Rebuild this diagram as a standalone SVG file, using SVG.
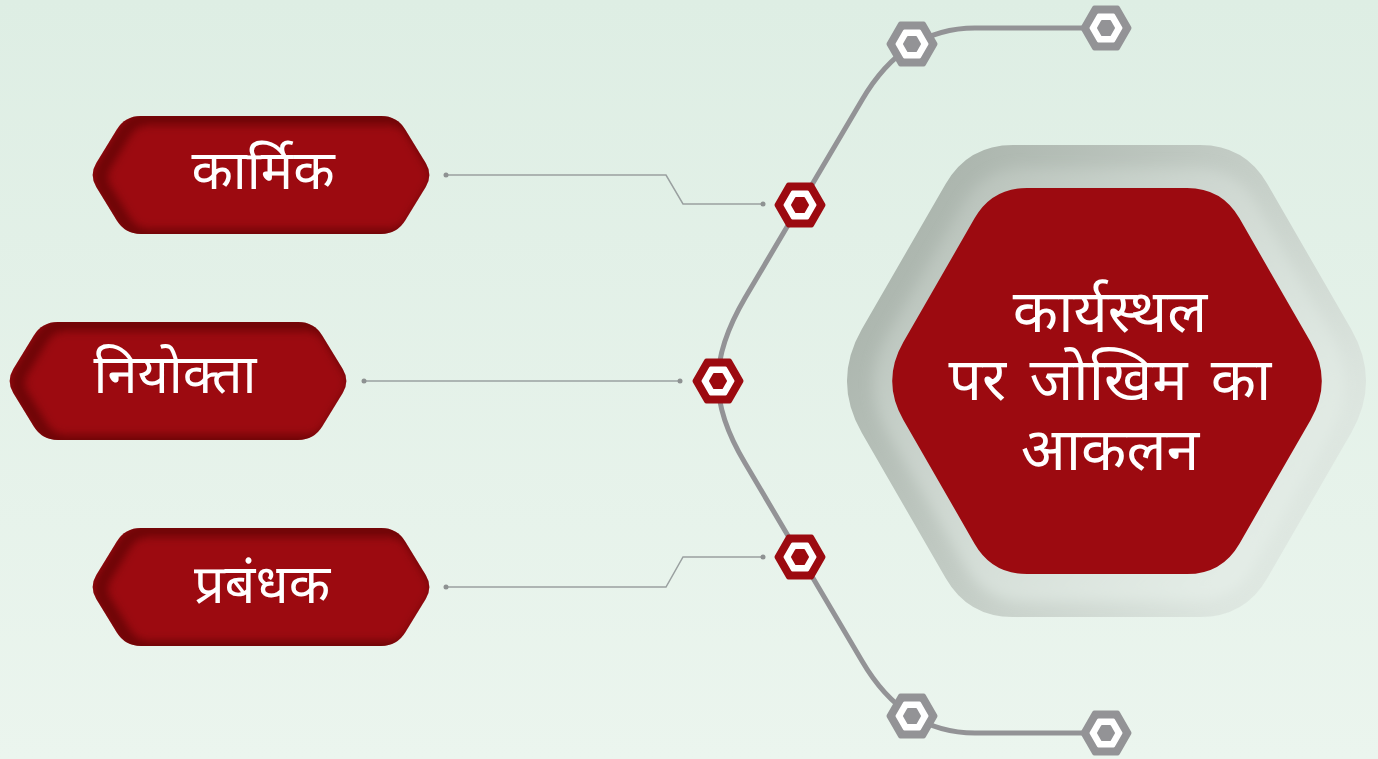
<svg xmlns="http://www.w3.org/2000/svg" xmlns:xlink="http://www.w3.org/1999/xlink" width="1378" height="759" viewBox="0 0 1378 759">
<style>
.lbl{font-family:"Noto Sans Devanagari","Noto Sans","Lohit Devanagari","Nirmala UI",Mangal,sans-serif;fill:#ffffff;text-anchor:middle;font-weight:400}
.sm{font-size:54px}
.lg{font-size:59px}
.box{fill:#9C0A10}
.shade{fill:none;stroke:#4E0006;stroke-width:14;stroke-opacity:0.6}
.thin{fill:none;stroke:#9AA0A0;stroke-width:1.5}
.dot{fill:#8E9292}
.spine{fill:none;stroke:#939396;stroke-width:5;stroke-linecap:round}
.gray .o{fill:#939396;stroke:#939396;stroke-width:5;stroke-linejoin:round}
.gray .i{fill:#939396;stroke:#939396;stroke-width:2;stroke-linejoin:round}
.red .o{fill:#9C0A10;stroke:#9C0A10;stroke-width:5;stroke-linejoin:round}
.red .i{fill:#9C0A10;stroke:#9C0A10;stroke-width:2;stroke-linejoin:round}
.w{fill:#ffffff;stroke:#ffffff;stroke-width:3;stroke-linejoin:round}
</style>
<defs>
<linearGradient id="bg" x1="0" y1="0" x2="0" y2="1">
<stop offset="0" stop-color="#DEEEE4"/>
<stop offset="1" stop-color="#EBF5EE"/>
</linearGradient>
<linearGradient id="halo" x1="0" y1="0.15" x2="1" y2="0.75">
<stop offset="0" stop-color="#A6B0A8"/>
<stop offset="0.5" stop-color="#C3CCC5"/>
<stop offset="1" stop-color="#E3ECE6"/>
</linearGradient>
<linearGradient id="halo2" x1="0" y1="0" x2="1" y2="1">
<stop offset="0" stop-color="#D2DBD4" stop-opacity="0.2"/>
<stop offset="0.5" stop-color="#DCE5DF" stop-opacity="0.6"/>
<stop offset="1" stop-color="#E9F2EC" stop-opacity="0.95"/>
</linearGradient>
<filter id="soft" x="-10%" y="-10%" width="120%" height="120%">
<feGaussianBlur stdDeviation="7"/>
</filter>
<filter id="blur4" x="-10%" y="-20%" width="120%" height="140%">
<feGaussianBlur stdDeviation="4"/>
</filter>
<path id="boxshape" d="M52,0 H292 Q308,0 316.34,13.66 L336.71,47.04 Q344,59 336.71,70.96 L316.34,104.34 Q308,118 292,118 H52 Q36,118 27.66,104.34 L7.29,70.96 Q0,59 7.29,47.04 L27.66,13.66 Q36,0 52,0 Z"/>
<clipPath id="boxclip"><use xlink:href="#boxshape"/></clipPath>
<polygon id="hO" points="23,0 11.5,19.92 -11.5,19.92 -23,0 -11.5,-19.92 11.5,-19.92"/>
<polygon id="hW" points="15,0 7.5,12.99 -7.5,12.99 -15,0 -7.5,-12.99 7.5,-12.99"/>
<polygon id="hI" points="8,0 4,6.93 -4,6.93 -8,0 -4,-6.93 4,-6.93"/>
</defs>
<rect x="0" y="0" width="1378" height="759" fill="url(#bg)"/>

<g id="connectors">
<path class="spine" d="M1106,28 H975 Q904,28 862,100 L745,298 Q718,344 718,381 Q718,418 745,463 L862,661 Q904,733 975,733 H1106"/>
<path class="thin" d="M446,175 H666 L683,204 H763"/>
<circle class="dot" cx="446" cy="175" r="2.5"/>
<circle class="dot" cx="763" cy="204" r="2.5"/>
<path class="thin" d="M364,381 H680"/>
<circle class="dot" cx="364" cy="381" r="2.5"/>
<circle class="dot" cx="680" cy="381" r="2.5"/>
<path class="thin" d="M446,587 H666 L683,557 H763"/>
<circle class="dot" cx="446" cy="587" r="2.5"/>
<circle class="dot" cx="763" cy="557" r="2.5"/>
</g>

<g id="node-karmik" transform="translate(89,116)">
<use xlink:href="#boxshape" class="box"/>
<g clip-path="url(#boxclip)"><use xlink:href="#boxshape" class="shade" filter="url(#blur4)" transform="translate(8,2)"/></g>
<text class="lbl sm" x="174" y="73">कार्मिक</text>
</g>
<g id="node-niyokta" transform="translate(6,322)">
<use xlink:href="#boxshape" class="box"/>
<g clip-path="url(#boxclip)"><use xlink:href="#boxshape" class="shade" filter="url(#blur4)" transform="translate(8,2)"/></g>
<text class="lbl sm" x="169" y="71">नियोक्ता</text>
</g>
<g id="node-prabandhak" transform="translate(89,528)">
<use xlink:href="#boxshape" class="box"/>
<g clip-path="url(#boxclip)"><use xlink:href="#boxshape" class="shade" filter="url(#blur4)" transform="translate(8,2)"/></g>
<text class="lbl sm" x="173" y="75">प्रबंधक</text>
</g>

<g id="node-g1" class="gray" transform="translate(912,44)"><use xlink:href="#hO" class="o"/><use xlink:href="#hW" class="w"/><use xlink:href="#hI" class="i"/></g>
<g id="node-g2" class="gray" transform="translate(1106,28)"><use xlink:href="#hO" class="o"/><use xlink:href="#hW" class="w"/><use xlink:href="#hI" class="i"/></g>
<g id="node-r1" class="red" transform="translate(800,205)"><use xlink:href="#hO" class="o"/><use xlink:href="#hW" class="w"/><use xlink:href="#hI" class="i"/></g>
<g id="node-r2" class="red" transform="translate(718,381)"><use xlink:href="#hO" class="o"/><use xlink:href="#hW" class="w"/><use xlink:href="#hI" class="i"/></g>
<g id="node-r3" class="red" transform="translate(800,557)"><use xlink:href="#hO" class="o"/><use xlink:href="#hW" class="w"/><use xlink:href="#hI" class="i"/></g>
<g id="node-g3" class="gray" transform="translate(912,716)"><use xlink:href="#hO" class="o"/><use xlink:href="#hW" class="w"/><use xlink:href="#hI" class="i"/></g>
<g id="node-g4" class="gray" transform="translate(1106,733)"><use xlink:href="#hO" class="o"/><use xlink:href="#hW" class="w"/><use xlink:href="#hI" class="i"/></g>

<g id="node-center">
<path fill="url(#halo)" d="M1013,145 H1200 Q1245,145 1267.4,184 L1351.1,329 Q1381,381 1351.1,433 L1267.4,578 Q1245,617 1200,617 H1013 Q968,617 945.6,578 L861.9,433 Q832,381 861.9,329 L945.6,184 Q968,145 1013,145 Z"/>
<path fill="url(#halo2)" filter="url(#soft)" d="M1025,168 H1195 Q1236,168 1256,203 L1333,336 Q1360,384 1333,432 L1256,565 Q1236,602 1195,602 H1025 Q984,602 964,565 L887,432 Q860,384 887,336 L964,203 Q984,168 1025,168 Z"/>
<path class="box" d="M1027,188 H1187 Q1222,188 1239.45,218.35 L1310.6,342 Q1333,381 1310.6,420 L1239.45,543.65 Q1222,574 1187,574 H1027 Q992,574 974.55,543.65 L903.4,420 Q881,381 903.4,342 L974.55,218.35 Q992,188 1027,188 Z"/>
<text class="lbl lg" x="1110" y="332">कार्यस्थल</text>
<text class="lbl lg" x="1110" y="400" word-spacing="8">पर जोखिम का</text>
<text class="lbl lg" x="1110" y="470">आकलन</text>
</g>
</svg>
